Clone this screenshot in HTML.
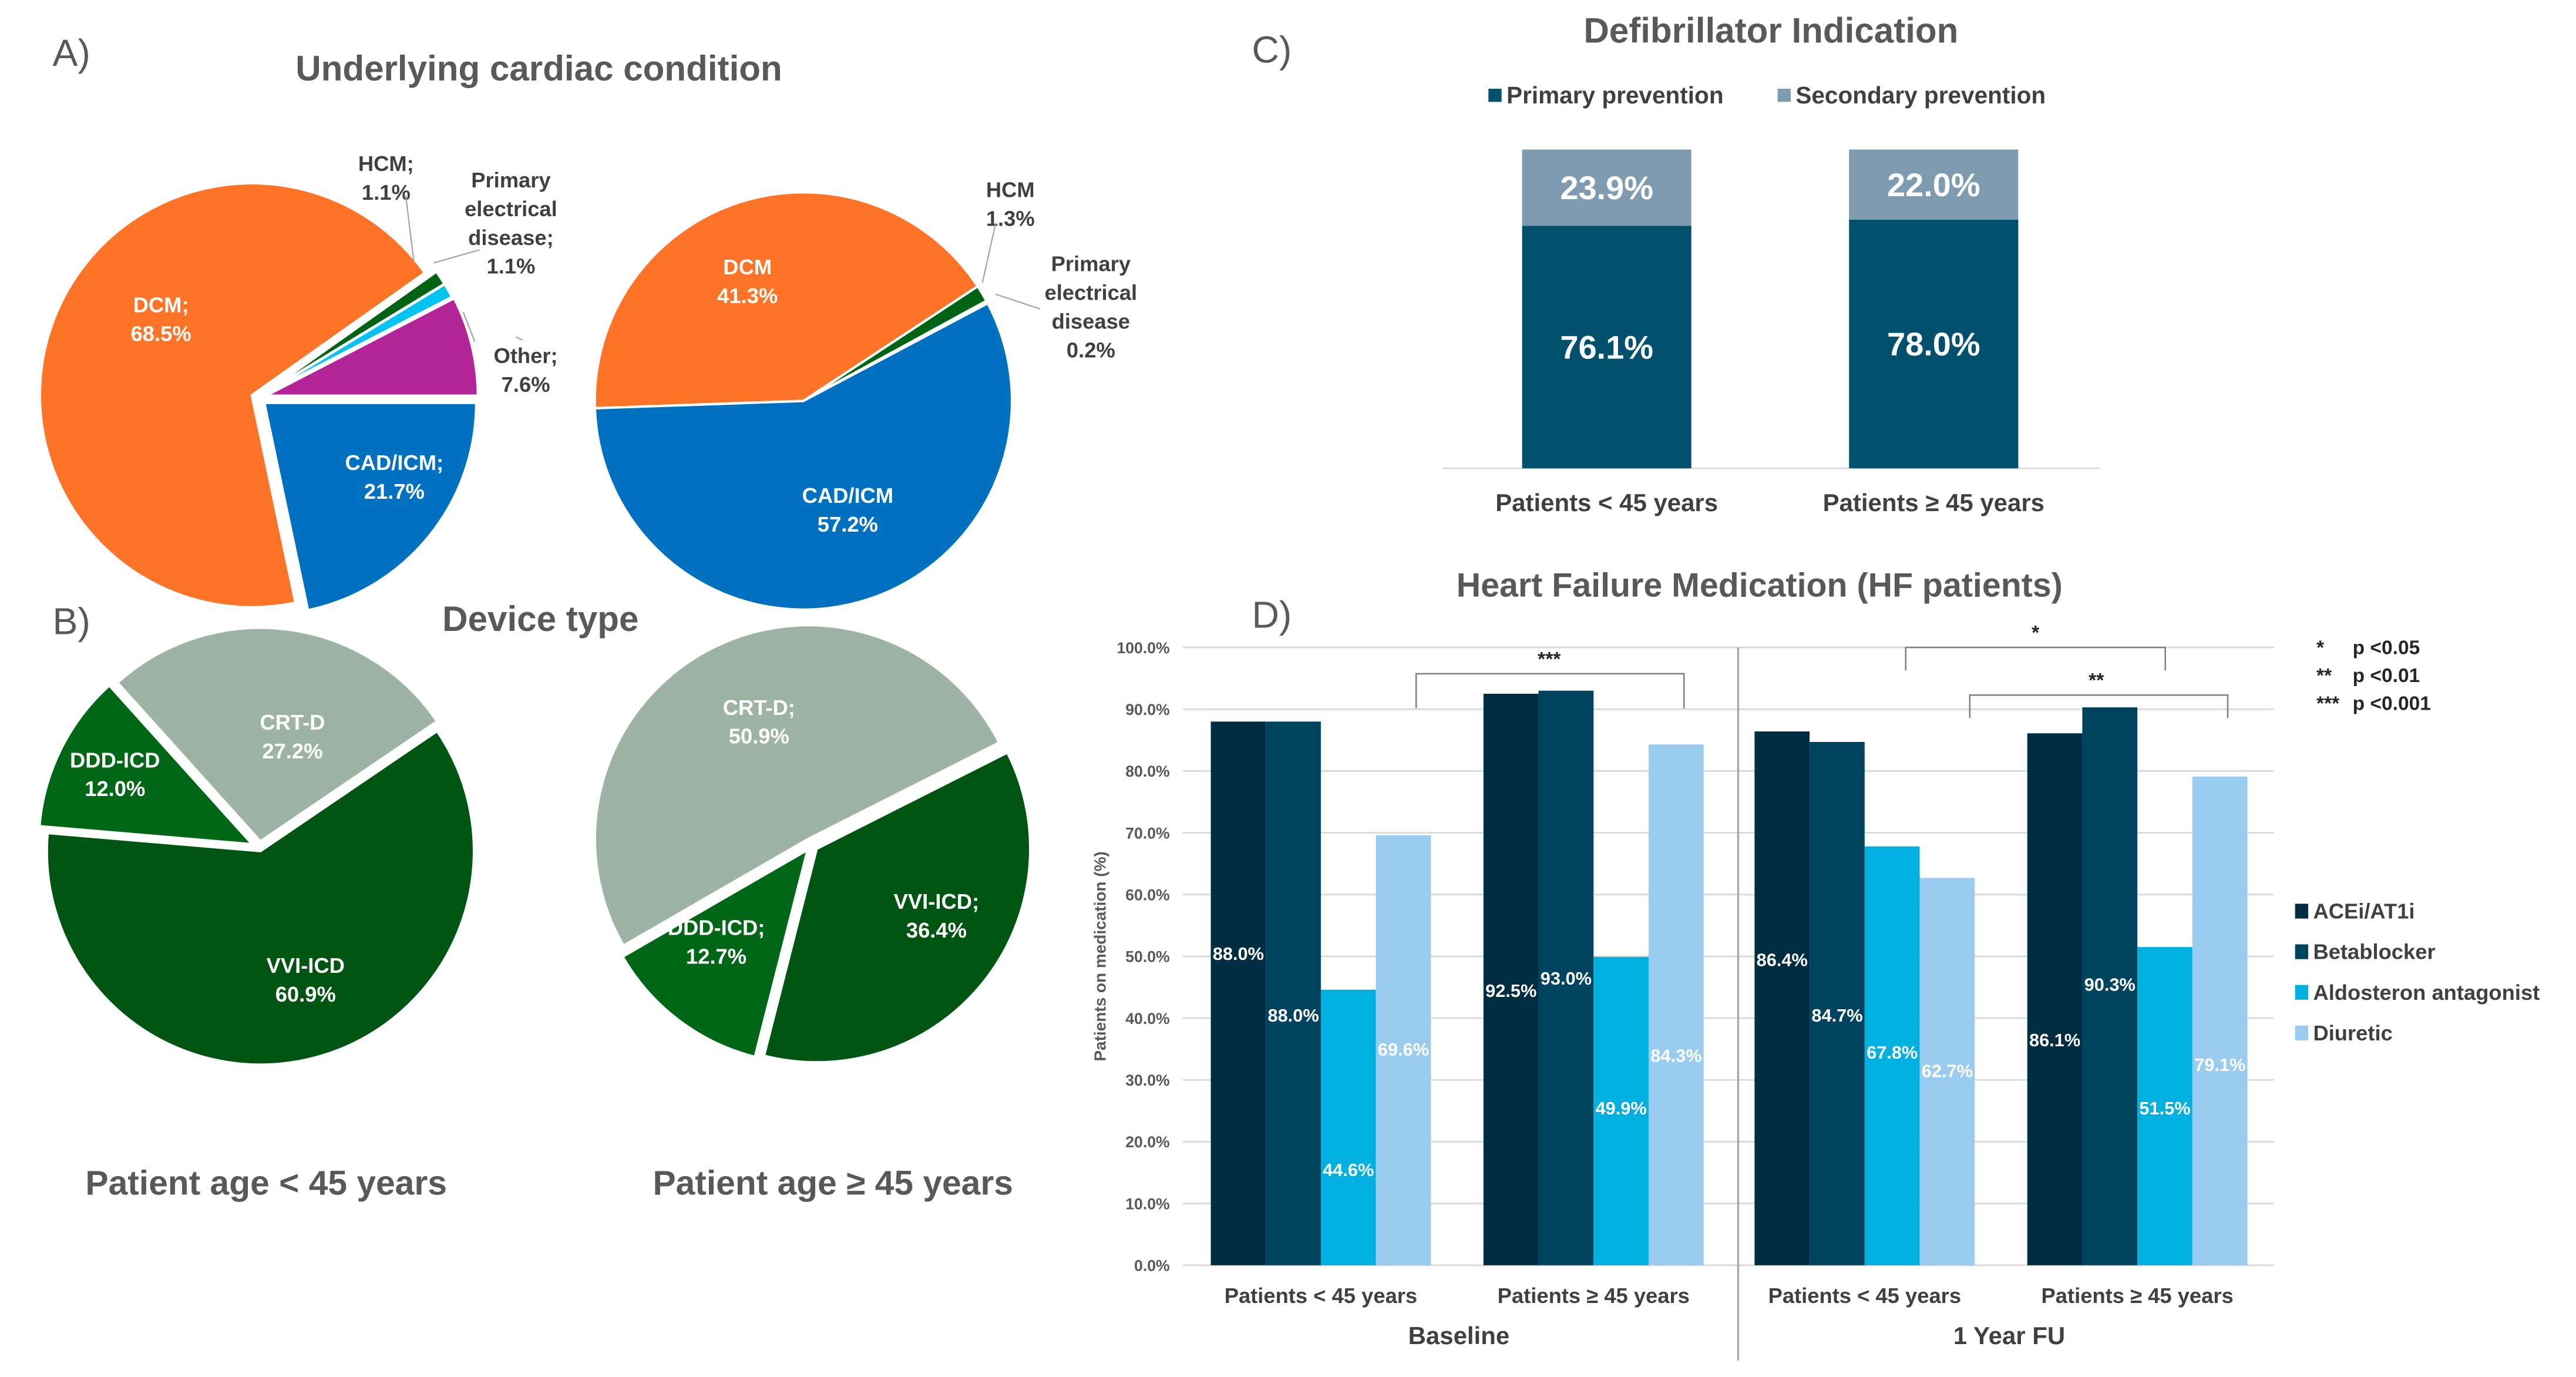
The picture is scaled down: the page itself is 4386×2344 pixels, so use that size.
<!DOCTYPE html>
<html><head><meta charset="utf-8"><style>
html,body{margin:0;padding:0;background:#fff}
svg{display:block}
text{font-family:"Liberation Sans",sans-serif}
</style></head><body>
<svg id="root" width="4386" height="2344" viewBox="0 0 1568 838" preserveAspectRatio="none" xmlns="http://www.w3.org/2000/svg">
<rect width="1568" height="838" fill="#fff"/>
<g id="pies"></g>
<g id="static" font-weight="bold">
  <text x="32" y="40" font-size="23" font-weight="normal" fill="#595959">A)</text>
  <text x="328" y="49" font-size="21.5" fill="#595959" text-anchor="middle">Underlying cardiac condition</text>
  <text x="32" y="386" font-size="23" font-weight="normal" fill="#595959">B)</text>
  <text x="329" y="384" font-size="21.5" fill="#595959" text-anchor="middle">Device type</text>
  <text x="162" y="727" font-size="21" fill="#595959" text-anchor="middle">Patient age &lt; 45 years</text>
  <text x="507" y="727" font-size="21" fill="#595959" text-anchor="middle">Patient age ≥ 45 years</text>
  <text x="762" y="38" font-size="23" font-weight="normal" fill="#595959">C)</text>
  <text x="1078" y="26" font-size="21.5" fill="#595959" text-anchor="middle">Defibrillator Indication</text>
  <text x="762" y="382" font-size="23" font-weight="normal" fill="#595959">D)</text>
  <text x="1071" y="363" font-size="20.5" fill="#595959" text-anchor="middle">Heart Failure Medication (HF patients)</text>
</g>
<g id="chartC"></g>
<g id="chartD"></g>
</svg>
<script>
const NS='http://www.w3.org/2000/svg';
function mk(tag,attrs,parent,txt){const e=document.createElementNS(NS,tag);for(const k in attrs)e.setAttribute(k,attrs[k]);if(txt!==undefined)e.textContent=txt;parent.appendChild(e);return e;}

// ---------- Pie data ----------
const pieA1Labels=['CAD/ICM','DCM','HCM','Primary electrical disease','Other'];
const pieA1Values=[21.7,68.5,1.1,1.1,7.6];
const pieA2Labels=['DCM','HCM','Primary electrical disease','CAD/ICM'];
const pieA2Values=[41.3,1.3,0.2,57.2];
const pieB1Labels=['CRT-D','VVI-ICD','DDD-ICD'];
const pieB1Values=[27.2,60.9,12.0];
const pieB2Labels=['CRT-D','VVI-ICD','DDD-ICD'];
const pieB2Values=[50.9,36.4,12.7];

const pies=document.getElementById('pies');
function drawPie(name,cx,cy,r,start,values,labels,colors,explode){
  const g=mk('g',{},pies);
  
  
  const tot=values.reduce((a,b)=>a+b,0);
  let a=start;
  values.forEach((v,i)=>{
    const sweep=v/tot*360, mid=(a+sweep/2)*Math.PI/180;
    const ex=explode[i]||0;
    const ox=cx+ex*Math.sin(mid), oy=cy-ex*Math.cos(mid);
    const a0=a*Math.PI/180,a1=(a+sweep)*Math.PI/180;
    const x0=ox+r*Math.sin(a0),y0=oy-r*Math.cos(a0),x1=ox+r*Math.sin(a1),y1=oy-r*Math.cos(a1);
    const p=mk('path',{d:`M${ox},${oy}L${x0},${y0}A${r},${r} 0 ${sweep>180?1:0} 1 ${x1},${y1}Z`,fill:colors[i],stroke:'#fff','stroke-width':1.5},g);
    
    
    a+=sweep;
  });
}
drawPie('pie-cardiac-under-45',157,242,129,90,pieA1Values,pieA1Labels,['#0070C0','#FF7327','#006414','#00C3F0','#B4259A'],[5,4,4,4,5]);
drawPie('pie-cardiac-over-45',489,244,127,268,pieA2Values,pieA2Labels,['#FF7327','#006414','#00C3F0','#0070C0'],[0,0,0,0]);
drawPie('pie-device-under-45',158,516,130,318,pieB1Values,pieB1Labels,['#9DB3A4','#015512','#006716'],[4,2,5]);
drawPie('pie-device-over-45',494,514,130,240,pieB2Values,pieB2Labels,['#9DB3A4','#015512','#006716'],[4,4,4]);

// pie labels
function lbl(name,x,y,lines,fill,size){
  const t=mk('text',{x:x,y:y,'text-anchor':'middle','font-size':size||13,'font-weight':'bold',fill:fill},pies);
  
  
  lines.forEach((l,i)=>mk('tspan',{x:x,dy:i?17.5:0},t,l));
}
const W='#ffffff',D='#404040';
lbl('label-dcm-under-45',98,190,['DCM;','68.5%'],W);
lbl('label-cad-under-45',240,286,['CAD/ICM;','21.7%'],W);
lbl('label-hcm-under-45',235,104,['HCM;','1.1%'],D);
lbl('label-primary-under-45',311,114,['Primary','electrical','disease;','1.1%'],D);
lbl('label-other-under-45',320,221,['Other;','7.6%'],D);
lbl('label-dcm-over-45',455,167,['DCM','41.3%'],W);
lbl('label-cad-over-45',516,306,['CAD/ICM','57.2%'],W);
lbl('label-hcm-over-45',615,120,['HCM','1.3%'],D);
lbl('label-primary-over-45',664,165,['Primary','electrical','disease','0.2%'],D);
lbl('label-crtd-under-45',178,444,['CRT-D','27.2%'],W);
lbl('label-ddd-under-45',70,467,['DDD-ICD','12.0%'],W);
lbl('label-vvi-under-45',186,592,['VVI-ICD','60.9%'],W);
lbl('label-crtd-over-45',462,435,['CRT-D;','50.9%'],W);
lbl('label-ddd-over-45',436,569,['DDD-ICD;','12.7%'],W);
lbl('label-vvi-over-45',570,553,['VVI-ICD;','36.4%'],W);
// leader lines
[[247,119,252,160],[292,152,264,160],[289,208,282,190],[314,205,318,207],[606,136,598,172],[633,188,606,179]].forEach(l=>{
  const e=mk('line',{x1:l[0],y1:l[1],x2:l[2],y2:l[3],stroke:'#a6a6a6','stroke-width':0.8},pies);
  
  
});

// ---------- Chart C ----------
const cCategories=['Patients < 45 years','Patients ≥ 45 years'];
const cPrimary=[76.1,78.0];
const cSecondary=[23.9,22.0];
const cg=document.getElementById('chartC');
const cBase=285,cTop=91;
const cy=v=>cBase-(cBase-cTop)*v/100;
const cCenters=[978,1177],cBW=103;
mk('line',{x1:878,y1:cBase,x2:1278,y2:cBase,stroke:'#d9d9d9','stroke-width':1},cg);
cCategories.forEach((c,i)=>{
  const x=cCenters[i]-cBW/2;
  const r1=mk('rect',{x:x,y:cy(cPrimary[i]),width:cBW,height:cBase-cy(cPrimary[i]),fill:'#00506E'},cg);
  
  
  const top=cy(cPrimary[i]+cSecondary[i]);
  const r2=mk('rect',{x:x,y:top,width:cBW,height:cy(cPrimary[i])-top,fill:'#7F9BAF'},cg);
  
  
  const t1=mk('text',{x:cCenters[i],y:(cy(cPrimary[i])+cBase)/2+7,'text-anchor':'middle','font-size':20,'font-weight':'bold',fill:'#fff'},cg,cPrimary[i].toFixed(1)+'%');
  
  
  const t2=mk('text',{x:cCenters[i],y:(cy(cPrimary[i])+top)/2+7,'text-anchor':'middle','font-size':20,'font-weight':'bold',fill:'#fff'},cg,cSecondary[i].toFixed(1)+'%');
  
  
  const t3=mk('text',{x:cCenters[i],y:311,'text-anchor':'middle','font-size':15,'font-weight':'bold',fill:'#404040'},cg,c);
  
  
});
[['Primary prevention','#00506E',906],['Secondary prevention','#7F9BAF',1082]].forEach((l,i)=>{
  const g=mk('g',{},cg);
  
  
  mk('rect',{x:l[2],y:54,width:8,height:8,fill:l[1]},g);
  mk('text',{x:l[2]+11,y:63,'font-size':14.5,'font-weight':'bold',fill:'#404040'},g,l[0]);
});

// ---------- Chart D ----------
const dCategories=['Patients < 45 years','Patients ≥ 45 years','Patients < 45 years','Patients ≥ 45 years'];
const dSeries=['ACEi/AT1i','Betablocker','Aldosteron antagonist','Diuretic'];
const dAce=[88.0,92.5,86.4,86.1];
const dBeta=[88.0,93.0,84.7,90.3];
const dAldo=[44.6,49.9,67.8,51.5];
const dDiur=[69.6,84.3,62.7,79.1];
const dTicks=[0,10,20,30,40,50,60,70,80,90,100];
// heights (in % units) at which Excel placed each data label
const dLabelAce=[50.5,44.5,49.5,36.5];
const dLabelBeta=[40.5,46.5,40.5,45.5];
const dLabelAldo=[15.5,25.5,34.5,25.5];
const dLabelDiur=[35,34,31.5,32.5];
const dColors=['#002D42','#00435F','#00B0E0','#99CCEE'];
const dg=document.getElementById('chartD');
const d0=770,d100=394,dL=720,dR=1384;
const dy=v=>d0-(d0-d100)*v/100;
dTicks.forEach(t=>{
  const l=mk('line',{x1:dL,y1:dy(t),x2:dR,y2:dy(t),stroke:'#d9d9d9','stroke-width':1},dg);
  
  
  const tx=mk('text',{x:712,y:dy(t)+3.5,'text-anchor':'end','font-size':9.5,'font-weight':'bold',fill:'#595959'},dg,t.toFixed(1)+'%');
  
  
});
const yt=mk('text',{x:0,y:0,transform:'translate(673,582) rotate(-90)','text-anchor':'middle','font-size':10,'font-weight':'bold',fill:'#595959'},dg,'Patients on medication (%)');


const dStarts=[737,903,1068,1234],dBW=33.5;
const series=[dAce,dBeta,dAldo,dDiur],labs=[dLabelAce,dLabelBeta,dLabelAldo,dLabelDiur];
dCategories.forEach((c,i)=>{
  series.forEach((s,k)=>{
    const x=dStarts[i]+k*dBW;
    const r=mk('rect',{x:x,y:dy(s[i]),width:dBW,height:d0-dy(s[i]),fill:dColors[k]},dg);
    
    
    const t=mk('text',{x:x+dBW/2,y:dy(labs[k][i])+4,'text-anchor':'middle','font-size':11,'font-weight':'bold',fill:'#fff'},dg,s[i].toFixed(1)+'%');
    
    
  });
  const ct=mk('text',{x:dStarts[i]+2*dBW,y:793,'text-anchor':'middle','font-size':13,'font-weight':'bold',fill:'#404040'},dg,c);
  
  
});
const div=mk('line',{x1:1058,y1:394,x2:1058,y2:828,stroke:'#a6a6a6','stroke-width':1.2},dg);


[['Baseline',888],['1 Year FU',1223]].forEach(g=>{
  const t=mk('text',{x:g[1],y:818,'text-anchor':'middle','font-size':15,'font-weight':'bold',fill:'#404040'},dg,g[0]);
  
  
});
[[862,1025,410,431,'***',943,405],[1160,1318,394,408,'*',1239,389],[1199,1356,423,437,'**',1276,418]].forEach(b=>{
  const p=mk('path',{d:`M${b[0]},${b[3]}L${b[0]},${b[2]}L${b[1]},${b[2]}L${b[1]},${b[3]}`,fill:'none',stroke:'#7f7f7f','stroke-width':0.9},dg);
  
  
  const t=mk('text',{x:b[5],y:b[6],'text-anchor':'middle','font-size':12,'font-weight':'bold',fill:'#262626'},dg,b[4]);
  
  
});
[['*','p <0.05',398],['**','p <0.01',415],['***','p <0.001',432]].forEach(s=>{
  const g=mk('g',{},dg);
  
  
  mk('text',{x:1410,y:s[2],'font-size':12,'font-weight':'bold',fill:'#262626'},g,s[0]);
  mk('text',{x:1432,y:s[2],'font-size':12,'font-weight':'bold',fill:'#262626'},g,s[1]);
});
dSeries.forEach((s,k)=>{
  const g=mk('g',{},dg);
  
  
  const y=554+k*24.7;
  mk('rect',{x:1397,y:y-4,width:8,height:9,fill:dColors[k]},g);
  mk('text',{x:1408,y:y+5,'font-size':13,'font-weight':'bold',fill:'#404040'},g,s);
});
</script>
</body></html>
